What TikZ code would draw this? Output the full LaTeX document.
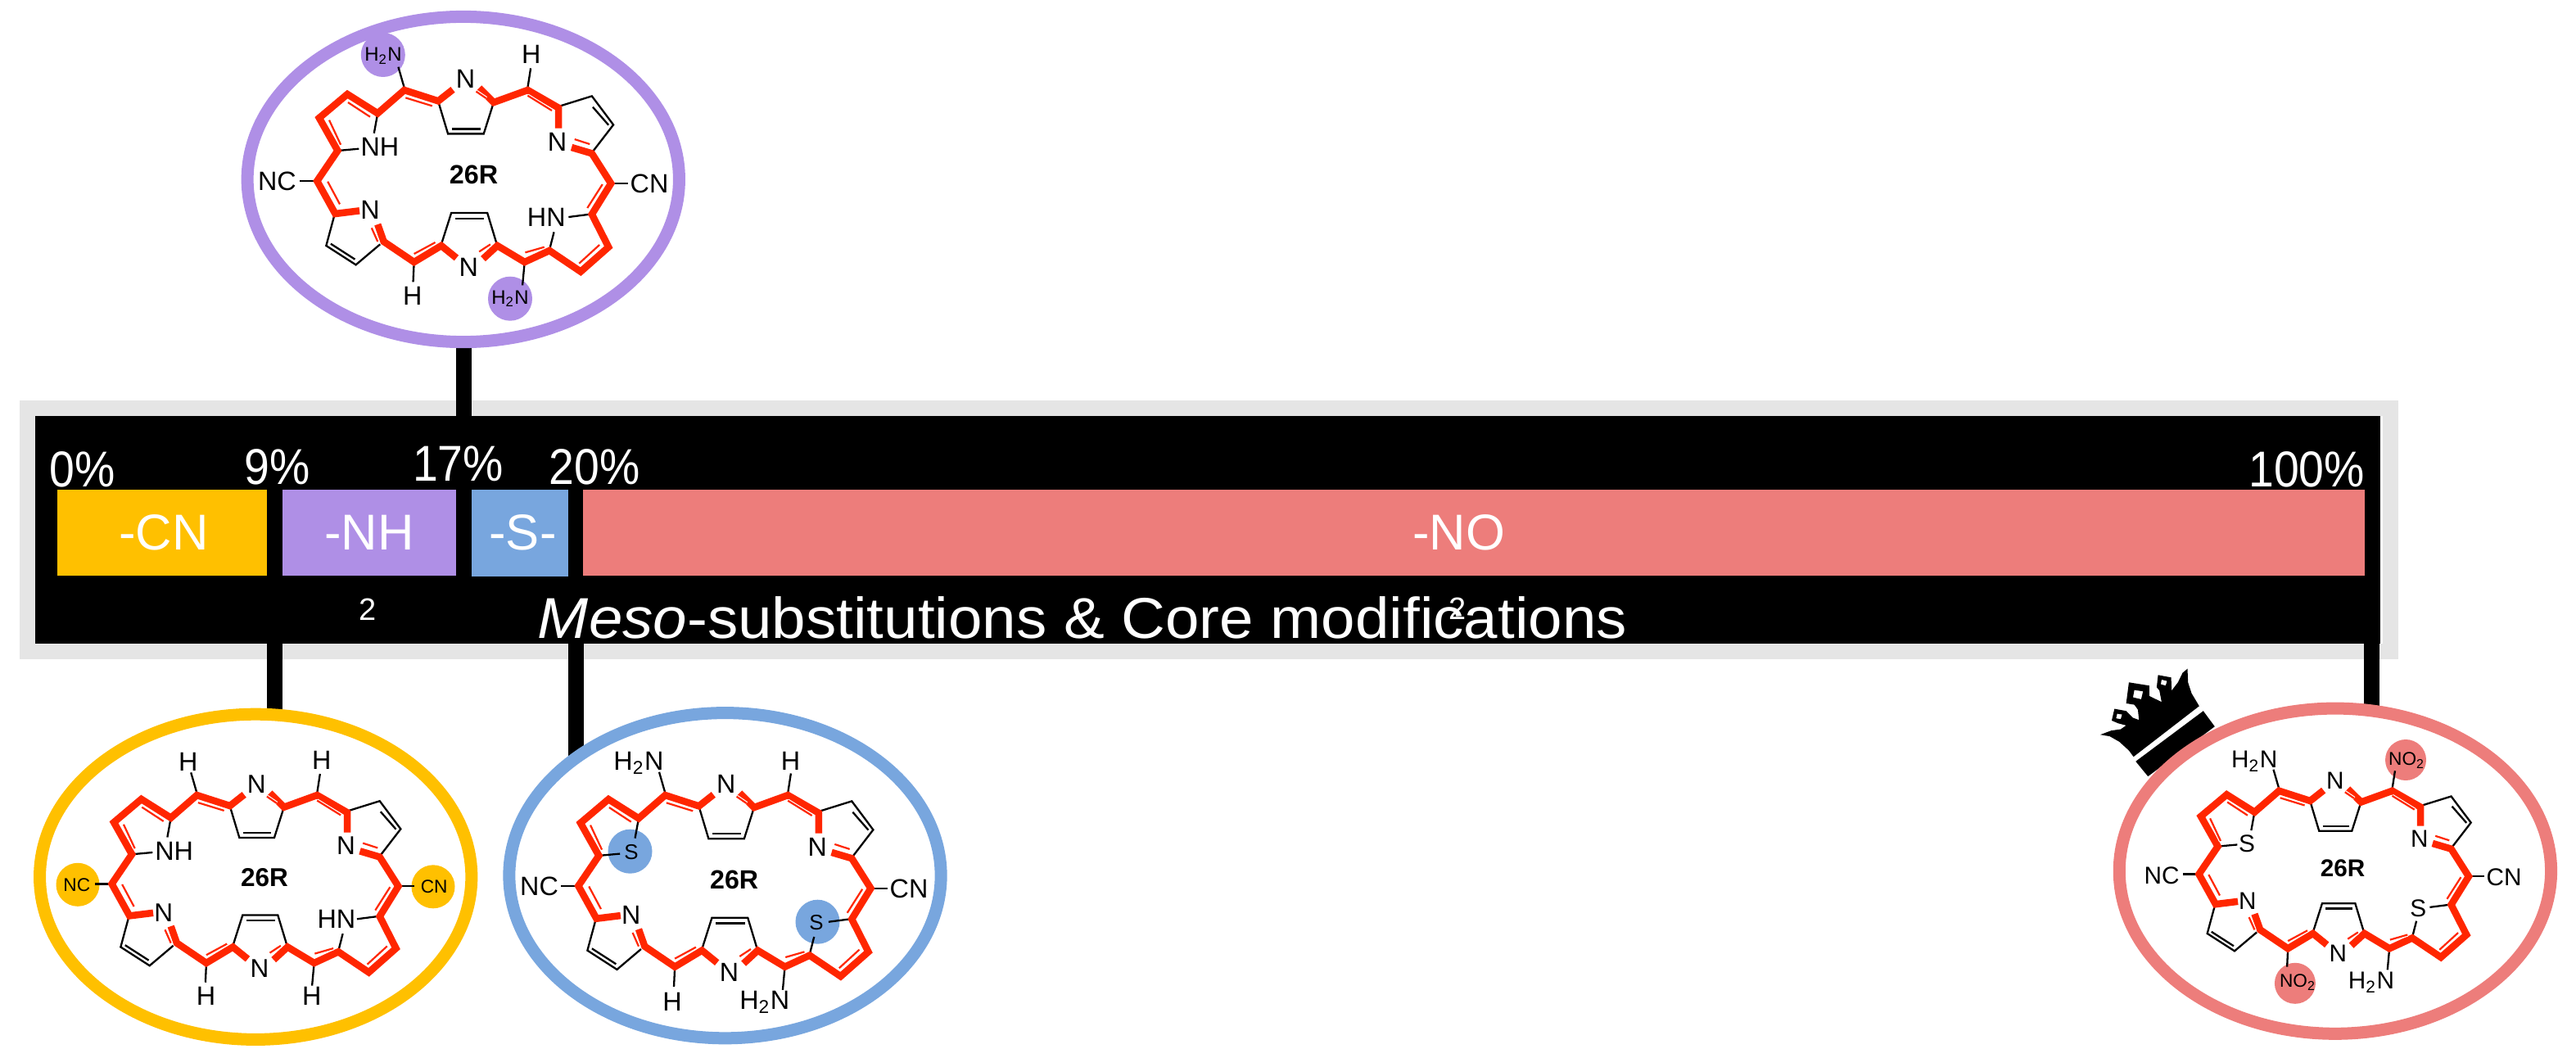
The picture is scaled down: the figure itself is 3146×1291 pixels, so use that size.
\documentclass[tikz,border=0pt]{standalone}
\usepackage{fontspec}
\setmainfont{Liberation Sans}
\usetikzlibrary{shapes.geometric}

\definecolor{cncol}{HTML}{FFC000}
\definecolor{nhcol}{HTML}{AF8FE6}
\definecolor{scol}{HTML}{78A6DE}
\definecolor{nocol}{HTML}{ED7D7B}
\definecolor{pathred}{HTML}{FF2600}
\definecolor{barrim}{HTML}{E5E5E5}

\tikzset{
  atom/.style={inner sep=0pt,text depth=0pt,font=\fontsize{9.2}{11}\selectfont},
  seg/.style={inner sep=0pt,minimum height=1.047cm},
  seglab/.style={inner sep=0pt,text depth=0pt,text=white,font=\fontsize{17.5}{20}\selectfont},
  pct/.style={seglab,xscale=.9},
  subtwo/.style={seglab,font=\fontsize{10.8}{12}\selectfont},
  ring/.style={ellipse,draw=#1,fill=white,line width=.15cm,inner sep=0pt,minimum width=5.27cm,minimum height=3.97cm},
  tie/.style={line width=.19cm},
  bond/.style={line width=.023cm},
  redbond/.style={pathred,line width=.085cm},
  redinner/.style={pathred,line width=.022cm},
}

% skeleton of the ring: prefix, centre, xscale, yscale
\newcommand{\porph}[4]{
  \begin{scope}[shift={(#2)},xscale=.37*#3,yscale=.3333*#4,shift={(-775,-641)}]
    % black parts of the pyrroles
    \draw[bond] (690,372)--(722,490)--(840,490)--(872,378) ;
    \draw[bond] (735,472)--(830,472) ;
    \draw[bond] (1087,390)--(1197,352)--(1268,457)--(1200,555) ;
    \draw[bond] (1200,392)--(1252,458) ;
    \draw[bond] (348,785)--(320,900)--(418,970)--(498,895) ;
    \draw[bond] (335,893)--(415,950) ;
    \draw[bond] (700,895)--(733,780)--(852,780)--(882,890) ;
    \draw[bond] (745,800)--(842,800) ;
    \draw[bond] (490,415)--(478,488) ;
    \draw[bond] (358,552)--(428,545) ;
    \draw[bond] (1072,850)--(1057,915) ;
    \draw[bond] (1120,795)--(1190,785) ;
    % stubs to the meso groups
    \draw[bond] (287,663)--(232,663) ;
    \draw[bond] (1262,672)--(1315,672) ;
    \draw[bond] (578,322)--(558,245) ;
    \draw[bond] (985,322)--(995,250) ;
    \draw[bond] (610,960)--(607,1033) ;
    \draw[bond] (975,960)--(968,1045) ;
    % conjugation pathway
    \draw[redbond] (738,328)--(690,370)--(578,330)--(490,415)--(390,345)--(297,432)--(358,552)--(290,663)--(350,783)--(430,772) ;
    \draw[redbond] (490,822)--(510,885)--(610,960)--(700,900)--(750,945) ;
    \draw[redbond] (838,948)--(885,900)--(975,960)--(1057,918)--(1160,995)--(1252,905)--(1197,785)--(1260,672)--(1197,562)--(1130,540) ;
    \draw[redbond] (1087,470)--(1087,395)--(985,330)--(873,375)--(825,322) ;
    \foreach \ax/\ay/\bx/\by in {582/358/670/388,815/335/848/360,985/350/1065/405,1140/510/1190/528,
      1232/675/1182/762,1222/897/1155/965,977/925/1040/905,862/895/825/922,
      680/888/610/930,470/835/490/885,325/665/365/748,330/440/368/530,392/375/465/428}
      {\draw[white,line width=.045cm] (\ax,\ay)--(\bx,\by) ;
       \draw[redinner] (\ax,\ay)--(\bx,\by) ;}
    \node[atom,scale=#3] (#1n1) at (780,290) {N} ;
    \node[atom,scale=#3] (#1n2) at (1083,520) {N} ;
    \node[atom,scale=#3] (#1n3) at (465,770) {N} ;
    \node[atom,scale=#3] (#1n4) at (790,980) {N} ;
    \node[atom,scale=#3,font=\fontsize{9.2}{11}\selectfont\bfseries] (#1name) at (807,640) {26R} ;
  \end{scope}
}

\begin{document}
\begin{tikzpicture}[x=.01cm,y=-.01cm]
  \useasboundingbox (0,0) rectangle (3146,1291) ;

  % the bar
  \fill[barrim] (24,489) rectangle (2928.5,805) ;
  \fill[black] (42.7,508) rectangle (2907,785.7) ;
  \fill[white] (2907,508) rectangle (2910,785.7) ;
  \node[seg,fill=cncol,minimum width=2.557cm] (segcn) at (198.05,650.35) {} ;
  \node[seg,fill=nhcol,minimum width=2.118cm] (segnh) at (450.9,650.35) {} ;
  \node[seg,fill=scol,minimum width=1.18cm,minimum height=1.06cm] (segs) at (634.9,651) {} ;
  \node[seg,fill=nocol,minimum width=21.743cm] (segno) at (1800.15,650.35) {} ;
  \node[seglab] (labcn) at (200,650.5) {-CN} ;
  \node[seglab] (labnh) at (451,650) {-NH} ;
  \node[seglab] (labs) at (638.5,650.5) {-S-} ;
  \node[seglab] (labno) at (1781.5,650) {-NO} ;
  \node[subtwo] (subnh) at (449.5,744) {2} ;
  \node[pct] (pct0) at (100.5,573.3) {0\%} ;
  \node[pct] (pct9) at (338.9,569.8) {9\%} ;
  \node[pct] (pct17) at (559.5,566.5) {17\%} ;
  \node[pct] (pct20) at (726,569.8) {20\%} ;
  \node[pct] (pct100) at (2817,572.8) {100\%} ;
  \node[seglab,xscale=1.06,font=\fontsize{20}{24}\selectfont,anchor=base] (bartitle) at (1322,779)
    {\textit{Meso}-substitutions \& Core modifications} ;
  \node[subtwo] (subno) at (1780,743) {2} ;

  % ties from the bar down (and up) to the rings
  \coordinate (tienh) at (566.3,508) ;
  \coordinate (endnh) at (566.3,418) ;
  \coordinate (tiecn) at (335.4,785.7) ;
  \coordinate (endcn) at (335.4,872) ;
  \coordinate (ties) at (703.5,785.7) ;
  \coordinate (ends) at (703.5,925) ;
  \coordinate (tieno) at (2896.5,785.7) ;
  \coordinate (endno) at (2896.5,868) ;
  \draw[tie] (tienh)--(endnh) ;
  \draw[tie] (tiecn)--(endcn) ;
  \draw[tie] (ties)--(ends) ;
  \draw[tie] (tieno)--(endno) ;

  % crown
  \begin{scope}[shift={(2555,800)},x=.00333cm,y=-.00333cm]
    \fill[black,even odd rule] (30,292)--(70,277)--(105,272)--(125,258)--(95,250)--(72,240)--(82,197)--(125,205)--(150,230)--(172,238)--(168,200)--(155,182)--(125,177)--(135,100)--(210,112)--(210,150)--(255,172)--(247,130)--(237,118)--(242,73)--(290,82)--(292,130)--(315,100)--(332,65)--(350,50)--(352,100)--(365,140)--(393,187)--(152,373)--(135,350)--(100,318)--(65,298)--cycle
      (155,128)--(187,133)--(180,162)--(150,155)--cycle
      (255,90)--(275,95)--(270,112)--(252,107)--cycle
      (92,215)--(110,218)--(105,235)--(88,232)--cycle ;
    \fill[black] (408,205)--(450,262)--(205,445)--(160,390)--cycle ;
  \end{scope}

  % top ring
  \node[ring=nhcol] (ringnh) at (565.8,219) {} ;
  \fill[nhcol] (467.8,67) circle (27) ;
  \fill[nhcol] (623,364.7) circle (27) ;
  \porph{a}{566.7,213.7}{1}{1}
  \node[atom,scale=.74] (anh2a) at (468,66.7) {H\textsubscript{2}N} ;
  \node[atom] (ahr) at (648.9,66.7) {H} ;
  \node[atom] (ahl) at (503.8,361.7) {H} ;
  \node[atom,scale=.74] (anh2b) at (623,363) {H\textsubscript{2}N} ;
  \node[atom] (anh) at (463.9,179) {NH} ;
  \node[atom] (ahn) at (667.3,265) {HN} ;
  \node[atom] (anc) at (338.5,221.7) {NC} ;
  \node[atom] (acn) at (793.1,224) {CN} ;

  % CN ring
  \node[ring=cncol] (ringcn) at (312.2,1070.8) {} ;
  \fill[cncol] (95,1080.3) circle (26.5) ;
  \fill[cncol] (529,1082.8) circle (26.5) ;
  \porph{b}{311.5,1072.2}{.975}{.976}
  \node[atom,scale=.7] (bnc) at (93.8,1080.7) {NC} ;
  \node[atom,scale=.7] (bcn) at (530.2,1082.3) {CN} ;
  \node[atom] (bhtl) at (229.8,930) {H} ;
  \node[atom] (bhtr) at (392.7,928.3) {H} ;
  \node[atom] (bhbl) at (251.6,1216) {H} ;
  \node[atom] (bhbr) at (380.7,1216) {H} ;
  \node[atom] (bnh) at (212.7,1039) {NH} ;
  \node[atom] (bhn) at (410.9,1122.7) {HN} ;

  % S ring
  \node[ring=scol] (rings) at (885.5,1069.2) {} ;
  \fill[scol] (769.5,1039.7) circle (27) ;
  \fill[scol] (998.5,1125.7) circle (27) ;
  \porph{c}{884.9,1074.5}{.995}{.998}
  \node[atom] (cnh2a) at (780,929) {H\textsubscript{2}N} ;
  \node[atom] (chr) at (965.5,929.3) {H} ;
  \node[atom] (chl) at (821,1223.3) {H} ;
  \node[atom] (cnh2b) at (933.8,1221.7) {H\textsubscript{2}N} ;
  \node[atom,scale=.8] (csa) at (770.9,1040) {S} ;
  \node[atom,scale=.8] (csb) at (997.1,1126.7) {S} ;
  \node[atom] (cnc) at (658.5,1082) {NC} ;
  \node[atom] (ccn) at (1110,1085) {CN} ;

  % NO2 ring
  \node[ring=nocol] (ringno) at (2851.9,1063.7) {} ;
  \fill[nocol] (2938,928) circle (25) ;
  \fill[nocol] (2802.9,1200.8) circle (25) ;
  \porph{d}{2850.2,1060.8}{.918}{.917}
  \node[atom,scale=.92] (dnh2a) at (2753.2,927.7) {H\textsubscript{2}N} ;
  \node[atom,scale=.7] (dnoa) at (2939.2,926.7) {NO\textsubscript{2}} ;
  \node[atom,scale=.7] (dnob) at (2806,1197.7) {NO\textsubscript{2}} ;
  \node[atom,scale=.92] (dnh2b) at (2895.9,1197.3) {H\textsubscript{2}N} ;
  \node[atom,scale=.92] (dsa) at (2744,1030) {S} ;
  \node[atom,scale=.92] (dsb) at (2953.3,1109.3) {S} ;
  \node[atom,scale=.92] (dnc) at (2640,1069) {NC} ;
  \node[atom,scale=.92] (dcn) at (3058,1071) {CN} ;
\end{tikzpicture}
\end{document}
